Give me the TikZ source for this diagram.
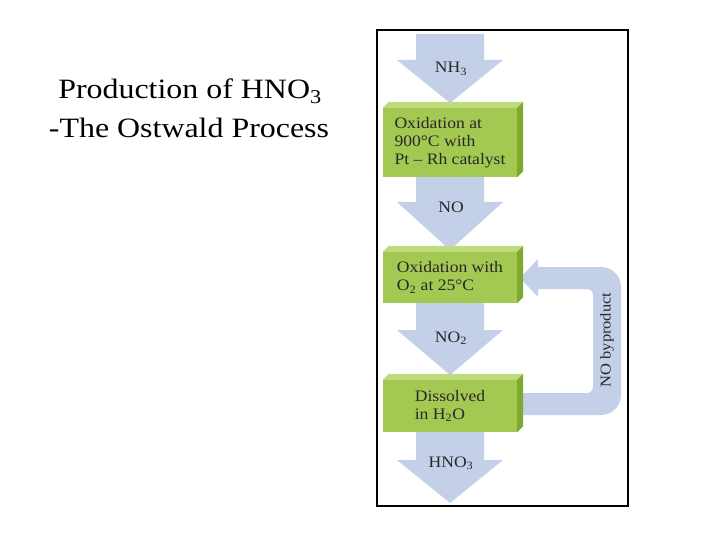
\documentclass[tikz,border=0pt]{standalone}
\usepackage{fontspec}
\setmainfont{Liberation Serif}[FakeStretch=1.1]
\newfontfamily\titlefont{Liberation Serif}[FakeStretch=1.14]
\definecolor{arrowblue}{RGB}{196,207,232}
\definecolor{greenfront}{RGB}{164,201,82}
\definecolor{greentop}{RGB}{192,219,124}
\definecolor{greenside}{RGB}{126,168,46}
\definecolor{txtdark}{RGB}{40,40,40}
\newcommand\blockarr[3]{\fill[arrowblue] (416,#1) -- (484,#1) -- (484,#2) -- (503,#2) -- (450,#3) -- (397,#2) -- (416,#2) -- cycle;}
\begin{document}
\begin{tikzpicture}[x=1pt,y=-1pt,
  boxst/.style={fill=greenfront, minimum width=134pt, inner sep=0pt, align=left,
    text=txtdark, font=\fontsize{16}{18}\selectfont},
  lbl/.style={anchor=base, text=txtdark, font=\fontsize{16}{18}\selectfont},
  ttl/.style={anchor=base, font=\titlefont\fontsize{28}{34}\selectfont}]
\useasboundingbox (0,0) rectangle (720,540);
\fill[white] (0,0) rectangle (720,540);
% title
\node[ttl] (t1) at (190,99) {Production of HNO\textsubscript{3}};
\node[ttl] (t2) at (189,138) {-The Ostwald Process};
% block arrows (behind boxes)
\blockarr{34}{60}{103}
\blockarr{170}{202}{250}
\blockarr{300}{330}{375}
\blockarr{428}{460}{503}
% recycle loop arrow
\fill[arrowblue] (515,415) [rounded corners=20pt] -- (621,415) -- (621,267) [sharp corners] -- (538,267)
  -- (538,259) -- (520,278) -- (538,297) -- (538,289) [rounded corners=6pt] -- (593,289) -- (593,393) [sharp corners] -- (515,393) -- cycle;
\node[rotate=90, text=txtdark, font=\fontsize{15}{18}\selectfont] (byp) at (607,340) {NO byproduct};
% boxes
\node[boxst, minimum height=69pt] (b1) at (450,142.5) {Oxidation at\\900°C with\\Pt – Rh catalyst};
\node[boxst, minimum height=51pt] (b2) at (450,277.5) {Oxidation with\\O\textsubscript{2} at 25°C};
\node[boxst, minimum height=52pt] (b3) at (450,406) {Dissolved\\in H\textsubscript{2}O};
\foreach \b in {b1,b2,b3}{
  \fill[greentop] (\b.north west) -- ([shift={(6,-6)}]\b.north west) -- ([shift={(6,-6)}]\b.north east) -- (\b.north east) -- cycle;
  \fill[greenside] (\b.north east) -- ([shift={(6,-6)}]\b.north east) -- ([shift={(6,-6)}]\b.south east) -- (\b.south east) -- cycle;
}
% labels
\node[lbl] (l1) at (451,73) {NH\textsubscript{3}};
\node[lbl] (l2) at (451,213) {NO};
\node[lbl] (l3) at (451,342) {NO\textsubscript{2}};
\node[lbl] (l4) at (451,467) {HNO\textsubscript{3}};
% frame
\draw[line width=2.5pt] (377,30) rectangle (628,506);
\end{tikzpicture}
\end{document}
